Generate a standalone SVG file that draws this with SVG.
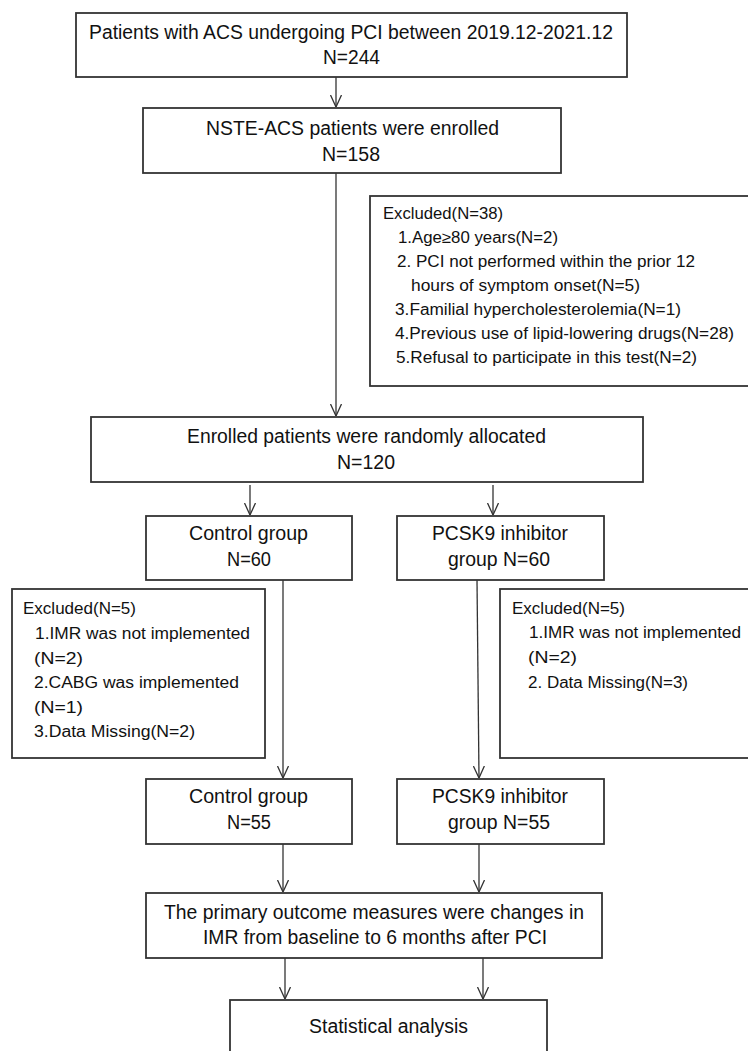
<svg xmlns="http://www.w3.org/2000/svg" width="748" height="1051" viewBox="0 0 748 1051">
<style>
.box{fill:#fff;stroke:#333;stroke-width:1.8}
.t{font-family:"Liberation Sans",Arial,sans-serif;font-size:19.5px;fill:#111}
.s{font-family:"Liberation Sans",Arial,sans-serif;font-size:16px;fill:#111}
.c{fill:none;stroke:#333;stroke-width:1.3}
</style>
<defs>
<marker id="ah" viewBox="0 0 12 12" refX="12" refY="6" markerWidth="12" markerHeight="12" markerUnits="userSpaceOnUse" orient="auto">
<path d="M0,0.5 L12,6 L0,11.5" fill="none" stroke="#333" stroke-width="1.3"/>
</marker>
</defs>
<rect width="748" height="1051" fill="#fff"/>
<g id="connectors">
<line class="c" x1="336" y1="77" x2="336" y2="107" marker-end="url(#ah)"/>
<line class="c" x1="336" y1="173" x2="336" y2="416" marker-end="url(#ah)"/>
<line class="c" x1="250" y1="485" x2="250" y2="515" marker-end="url(#ah)"/>
<line class="c" x1="493" y1="485" x2="493" y2="515" marker-end="url(#ah)"/>
<line class="c" x1="283" y1="580" x2="283" y2="778" marker-end="url(#ah)"/>
<line class="c" x1="477" y1="580" x2="479" y2="778" marker-end="url(#ah)"/>
<line class="c" x1="283" y1="844" x2="283" y2="892" marker-end="url(#ah)"/>
<line class="c" x1="479" y1="844" x2="479" y2="892" marker-end="url(#ah)"/>
<line class="c" x1="285" y1="958" x2="285" y2="999" marker-end="url(#ah)"/>
<line class="c" x1="483" y1="958" x2="483" y2="999" marker-end="url(#ah)"/>
</g>
<g id="n1">
<rect class="box" x="76" y="13" width="551" height="64"/>
<text class="t" x="89" y="39" textLength="524" lengthAdjust="spacingAndGlyphs">Patients with ACS undergoing PCI between 2019.12-2021.12</text>
<text class="t" x="323" y="64" textLength="57" lengthAdjust="spacingAndGlyphs">N=244</text>
</g>
<g id="n2">
<rect class="box" x="143" y="108" width="418" height="65"/>
<text class="t" x="206" y="135" textLength="293" lengthAdjust="spacingAndGlyphs">NSTE-ACS patients were enrolled</text>
<text class="t" x="322" y="161" textLength="58" lengthAdjust="spacingAndGlyphs">N=158</text>
</g>
<g id="excl1">
<rect class="box" x="370" y="196" width="380" height="190"/>
<text class="s" x="383" y="219" textLength="120" lengthAdjust="spacingAndGlyphs">Excluded(N=38)</text>
<text class="s" x="398" y="243" textLength="160" lengthAdjust="spacingAndGlyphs">1.Age≥80 years(N=2)</text>
<text class="s" x="397" y="267" textLength="298" lengthAdjust="spacingAndGlyphs">2. PCI not performed within the prior 12</text>
<text class="s" x="411" y="291" textLength="229" lengthAdjust="spacingAndGlyphs">hours of symptom onset(N=5)</text>
<text class="s" x="395" y="315" textLength="286" lengthAdjust="spacingAndGlyphs">3.Familial hypercholesterolemia(N=1)</text>
<text class="s" x="395" y="339" textLength="339" lengthAdjust="spacingAndGlyphs">4.Previous use of lipid-lowering drugs(N=28)</text>
<text class="s" x="396" y="363" textLength="301" lengthAdjust="spacingAndGlyphs">5.Refusal to participate in this test(N=2)</text>
</g>
<g id="n3">
<rect class="box" x="91" y="417" width="552" height="65"/>
<text class="t" x="187" y="443" textLength="359" lengthAdjust="spacingAndGlyphs">Enrolled patients were randomly allocated</text>
<text class="t" x="337" y="469" textLength="58" lengthAdjust="spacingAndGlyphs">N=120</text>
</g>
<g id="ctrl60">
<rect class="box" x="146" y="516" width="206" height="64"/>
<text class="t" x="189" y="540" textLength="119" lengthAdjust="spacingAndGlyphs">Control group</text>
<text class="t" x="227" y="566" textLength="44" lengthAdjust="spacingAndGlyphs">N=60</text>
</g>
<g id="pcsk60">
<rect class="box" x="397" y="516" width="207" height="64"/>
<text class="t" x="432" y="540" textLength="136" lengthAdjust="spacingAndGlyphs">PCSK9 inhibitor</text>
<text class="t" x="448" y="566" textLength="102" lengthAdjust="spacingAndGlyphs">group N=60</text>
</g>
<g id="excl2">
<rect class="box" x="12" y="589" width="253" height="169"/>
<text class="s" x="23" y="614" textLength="113" lengthAdjust="spacingAndGlyphs">Excluded(N=5)</text>
<text class="s" x="35" y="639" textLength="215" lengthAdjust="spacingAndGlyphs">1.IMR was not implemented</text>
<text class="s" x="34" y="664" textLength="49" lengthAdjust="spacingAndGlyphs">(N=2)</text>
<text class="s" x="34" y="688" textLength="205" lengthAdjust="spacingAndGlyphs">2.CABG was implemented</text>
<text class="s" x="34" y="713" textLength="49" lengthAdjust="spacingAndGlyphs">(N=1)</text>
<text class="s" x="34" y="737" textLength="161" lengthAdjust="spacingAndGlyphs">3.Data Missing(N=2)</text>
</g>
<g id="excl3">
<rect class="box" x="500" y="589" width="252" height="169"/>
<text class="s" x="512" y="614" textLength="113" lengthAdjust="spacingAndGlyphs">Excluded(N=5)</text>
<text class="s" x="529" y="638" textLength="212" lengthAdjust="spacingAndGlyphs">1.IMR was not implemented</text>
<text class="s" x="528" y="663" textLength="49" lengthAdjust="spacingAndGlyphs">(N=2)</text>
<text class="s" x="528" y="688" textLength="160" lengthAdjust="spacingAndGlyphs">2. Data Missing(N=3)</text>
</g>
<g id="ctrl55">
<rect class="box" x="146" y="779" width="206" height="65"/>
<text class="t" x="189" y="803" textLength="119" lengthAdjust="spacingAndGlyphs">Control group</text>
<text class="t" x="227" y="829" textLength="44" lengthAdjust="spacingAndGlyphs">N=55</text>
</g>
<g id="pcsk55">
<rect class="box" x="397" y="779" width="207" height="65"/>
<text class="t" x="432" y="803" textLength="136" lengthAdjust="spacingAndGlyphs">PCSK9 inhibitor</text>
<text class="t" x="448" y="829" textLength="102" lengthAdjust="spacingAndGlyphs">group N=55</text>
</g>
<g id="outcome">
<rect class="box" x="146" y="893" width="456" height="65"/>
<text class="t" x="164" y="919" textLength="420" lengthAdjust="spacingAndGlyphs">The primary outcome measures were changes in</text>
<text class="t" x="203" y="944" textLength="344" lengthAdjust="spacingAndGlyphs">IMR from baseline to 6 months after PCI</text>
</g>
<g id="stats">
<rect class="box" x="230" y="1000" width="317" height="70"/>
<text class="t" x="309" y="1033" textLength="159" lengthAdjust="spacingAndGlyphs">Statistical analysis</text>
</g>
</svg>
